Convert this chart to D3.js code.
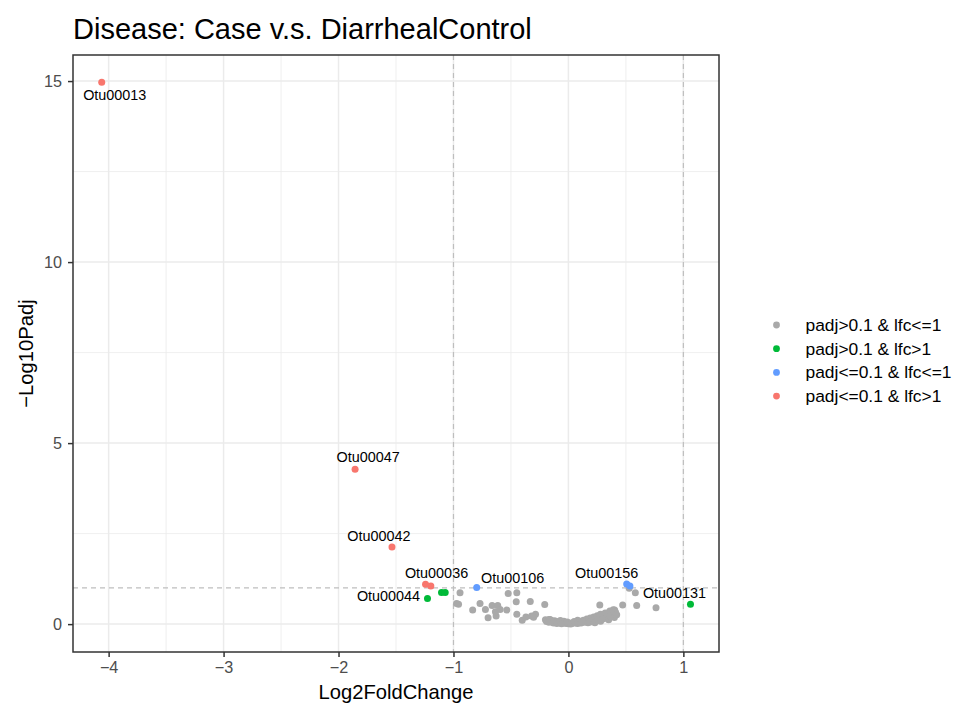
<!DOCTYPE html>
<html>
<head>
<meta charset="utf-8">
<script src="https://cdn.jsdelivr.net/npm/d3@7"></script>
<style>
  body { margin: 0; background: #fff; }
  svg { font-family: "Liberation Sans", Arial, sans-serif; }
</style>
</head>
<body>
<svg id="chart" width="964" height="709"></svg>
<script>
"use strict";

// Categories, in legend order
var categories = ["padj>0.1 & lfc<=1", "padj>0.1 & lfc>1", "padj<=0.1 & lfc<=1", "padj<=0.1 & lfc>1"];
var categoryColors = ["#A9A9A9", "#00BA38", "#619CFF", "#F8766D"];

// Labelled OTUs: name, log2 fold change, -log10 padj, category index
var labelNames = ["Otu00013", "Otu00047", "Otu00042", "Otu00036", "Otu00044", "Otu00106", "Otu00156", "Otu00131"];
var labelLfc   = [-4.06, -1.856, -1.535, -1.243, -1.226, -0.798, 0.507, 1.062];
var labelPadj  = [14.97, 4.28, 2.13, 1.10, 0.71, 1.01, 1.105, 0.55];
var labelCat   = [3, 3, 3, 3, 1, 2, 2, 1];

// Other coloured points without label: [lfc, -log10 padj, category]
var extraPoints = [
    [-1.197, 1.05, 3],
    [-1.104, 0.876, 1],
    [-1.072, 0.876, 1],
    [0.535, 1.05, 2]
];

// Gray points: [lfc, -log10 padj]
var grayPoints = [
    [-0.943, 0.865], [-0.973, 0.572], [-0.956, 0.552], [-0.769, 0.572], [-0.833, 0.387],
    [-0.722, 0.406], [-0.699, 0.174], [-0.664, 0.517], [-0.615, 0.517], [-0.629, 0.221],
    [-0.635, 0.340], [-0.594, 0.406], [-0.536, 0.387], [-0.524, 0.848], [-0.449, 0.865],
    [-0.454, 0.616], [-0.449, 0.276], [-0.402, 0.110], [-0.332, 0.627], [-0.321, 0.221],
    [-0.286, 0.276], [-0.303, 0.193], [-0.206, 0.544], [-0.169, 0.130], [-0.37, 0.20],
    [-0.18, 0.09], [-0.15, 0.11], [-0.14, 0.06], [-0.12, 0.09], [-0.11, 0.05],
    [-0.09, 0.07], [-0.08, 0.04], [-0.06, 0.06], [-0.05, 0.03], [-0.03, 0.04],
    [-0.02, 0.02], [0.00, 0.01], [0.01, 0.03], [0.03, 0.02], [0.04, 0.04],
    [0.06, 0.03], [0.07, 0.06], [0.09, 0.05], [0.10, 0.08], [0.12, 0.06],
    [0.13, 0.11], [0.15, 0.09], [0.16, 0.14], [0.18, 0.10], [0.19, 0.17],
    [0.21, 0.13], [0.22, 0.20], [0.24, 0.15], [0.25, 0.23], [0.27, 0.18],
    [0.29, 0.26], [0.31, 0.21], [0.32, 0.31], [0.34, 0.25], [0.36, 0.36],
    [0.38, 0.30], [0.273, 0.525], [0.279, 0.276], [0.367, 0.312], [0.402, 0.387],
    [0.472, 0.525], [0.529, 0.994], [0.582, 0.865], [0.594, 0.517], [0.762, 0.450],
    [0.08, 0.11], [-0.04, 0.08], [0.20, 0.07],
    [-0.20, 0.12], [-0.19, 0.07], [-0.17, 0.05], [-0.16, 0.13], [-0.13, 0.03],
    [-0.10, 0.02], [-0.07, 0.10], [-0.06, 0.01], [-0.01, 0.06], [0.02, 0.00],
    [0.05, 0.07], [0.08, 0.02], [0.11, 0.03], [0.14, 0.05], [0.17, 0.04],
    [0.19, 0.06], [0.22, 0.09], [0.23, 0.04], [0.26, 0.12], [0.28, 0.08],
    [0.30, 0.14], [0.33, 0.17], [0.35, 0.12], [0.37, 0.22], [0.39, 0.40],
    [0.40, 0.18], [0.41, 0.33], [0.42, 0.26]
];

var xTicks = [-4, -3, -2, -1, 0, 1];
var yTicks = [0, 5, 10, 15];
var xMinor = [-3.5, -2.5, -1.5, -0.5, 0.5];
var yMinor = [2.5, 7.5, 12.5];
var cutLfc = [-1, 1];
var cutPadj = 1;

// label offsets from their point (pixels): dx, dy of text baseline centre
var labelOffset = {
    Otu00013: [13, 17.5], Otu00047: [13, -7], Otu00042: [-13, -6], Otu00036: [11, -6],
    Otu00044: [-39, 3], Otu00106: [36, -5], Otu00156: [-20, -6], Otu00131: [-16, -6.5]
};

var svg = d3.select("#chart");
var m = { left: 73, right: 245, top: 55, bottom: 57 };
var W = 964, H = 709;

var x = d3.scaleLinear().domain([-4.31, 1.31]).range([m.left, W - m.right]);
var y = d3.scaleLinear().domain([-0.77, 15.72]).range([H - m.bottom, m.top]);

var panel = svg.append("g");
// minor grid
panel.selectAll(".gxm").data(xMinor).enter().append("line")
    .attr("x1", d => x(d)).attr("x2", d => x(d)).attr("y1", m.top).attr("y2", H - m.bottom)
    .attr("stroke", "#EBEBEB").attr("stroke-width", 0.8);
panel.selectAll(".gym").data(yMinor).enter().append("line")
    .attr("y1", d => y(d)).attr("y2", d => y(d)).attr("x1", m.left).attr("x2", W - m.right)
    .attr("stroke", "#EBEBEB").attr("stroke-width", 0.8);
// major grid
panel.selectAll(".gx").data(xTicks).enter().append("line")
    .attr("x1", d => x(d)).attr("x2", d => x(d)).attr("y1", m.top).attr("y2", H - m.bottom)
    .attr("stroke", "#EBEBEB").attr("stroke-width", 1.5);
panel.selectAll(".gy").data(yTicks).enter().append("line")
    .attr("y1", d => y(d)).attr("y2", d => y(d)).attr("x1", m.left).attr("x2", W - m.right)
    .attr("stroke", "#EBEBEB").attr("stroke-width", 1.5);

// cut-off lines
panel.selectAll(".vcut").data(cutLfc).enter().append("line")
    .attr("x1", d => x(d)).attr("x2", d => x(d)).attr("y1", m.top).attr("y2", H - m.bottom)
    .attr("stroke", "#BEBEBE").attr("stroke-width", 1.2).attr("stroke-dasharray", "5,4");
panel.append("line")
    .attr("y1", y(cutPadj)).attr("y2", y(cutPadj)).attr("x1", m.left).attr("x2", W - m.right)
    .attr("stroke", "#BEBEBE").attr("stroke-width", 1.2).attr("stroke-dasharray", "5,4");

// points
var allPoints = grayPoints.map(p => ({ lfc: p[0], padj: p[1], cat: 0 }))
    .concat(extraPoints.map(p => ({ lfc: p[0], padj: p[1], cat: p[2] })))
    .concat(labelNames.map((n, i) => ({ lfc: labelLfc[i], padj: labelPadj[i], cat: labelCat[i], name: n })));

panel.selectAll("circle.pt").data(allPoints).enter().append("circle")
    .attr("class", "pt")
    .attr("cx", d => x(d.lfc)).attr("cy", d => y(d.padj)).attr("r", 3.5)
    .attr("fill", d => categoryColors[d.cat]);

// labels
panel.selectAll("text.lab").data(allPoints.filter(d => d.name)).enter().append("text")
    .attr("class", "lab")
    .attr("x", d => x(d.lfc) + labelOffset[d.name][0])
    .attr("y", d => y(d.padj) + labelOffset[d.name][1])
    .attr("text-anchor", "middle")
    .style("font-size", "14.4px").attr("fill", "#000")
    .text(d => d.name);

// border
svg.append("rect").attr("x", m.left).attr("y", m.top)
    .attr("width", W - m.right - m.left).attr("height", H - m.bottom - m.top)
    .attr("fill", "none").attr("stroke", "#333333").attr("stroke-width", 1.5);

// axes
var xAxis = svg.append("g").attr("transform", "translate(0," + (H - m.bottom) + ")")
    .call(d3.axisBottom(x).tickValues(xTicks).tickSize(5).tickPadding(4).tickFormat(d => d < 0 ? "\u2212" + Math.abs(d) : d));
var yAxis = svg.append("g").attr("transform", "translate(" + m.left + ",0)")
    .call(d3.axisLeft(y).tickValues(yTicks).tickSize(5).tickPadding(6));
[xAxis, yAxis].forEach(function (a) {
    a.select(".domain").remove();
    a.selectAll(".tick line").attr("stroke", "#333333").attr("stroke-width", 1.5);
    a.selectAll(".tick text").attr("fill", "#4D4D4D").style("font-size", "16.2px")
        .style("font-family", "'Liberation Sans', Arial, sans-serif");
});

// titles
svg.append("text").attr("x", m.left).attr("y", 39)
    .style("font-size", "29px").attr("fill", "#000")
    .text("Disease: Case v.s. DiarrhealControl");
svg.append("text").attr("x", (m.left + W - m.right) / 2).attr("y", 699)
    .attr("text-anchor", "middle").style("font-size", "20.2px").attr("fill", "#000")
    .text("Log2FoldChange");
svg.append("text").attr("transform", "translate(33," + ((m.top + H - m.bottom) / 2) + ") rotate(-90)")
    .attr("text-anchor", "middle").style("font-size", "20.2px").attr("fill", "#000")
    .text("\u2212Log10Padj");

// legend
var legend = svg.append("g").attr("transform", "translate(776.5,325)");
var rows = legend.selectAll("g").data(categories).enter().append("g")
    .attr("transform", (d, i) => "translate(0," + (i * 23.7) + ")");
rows.append("circle").attr("r", 3.4).attr("fill", (d, i) => categoryColors[i]);
rows.append("text").attr("x", 29).attr("y", 6).style("font-size", "17.4px").attr("fill", "#000")
    .text(d => d);
</script>
</body>
</html>
